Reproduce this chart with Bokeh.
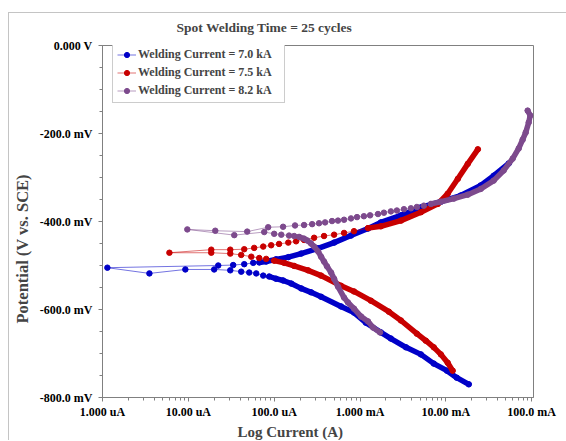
from bokeh.plotting import figure
from bokeh.models import Range1d, FixedTicker, Legend, LegendItem, Title, InlineStyleSheet
from bokeh.embed import file_html
from bokeh.resources import INLINE

# ---------------- data (current in A, potential in mV vs SCE) ----------------
SERIES_LABELS = ["Welding Current = 7.0 kA", "Welding Current = 7.5 kA", "Welding Current = 8.2 kA"]

BLUE_I = [1.85e-2, 1.34e-2, 1.03e-2, 7.24e-3, 5.12e-3, 3.43e-3, 2.29e-3, 1.75e-3, 1.17e-3, 8.51e-4,
          6.01e-4, 3.52e-4, 2.69e-4, 2.06e-4, 1.58e-4, 1.27e-4, 1.05e-4, 8.75e-5, 7.45e-5, 6.18e-5,
          5.12e-5, 4.13e-5, 3.08e-5, 2.00e-5, 9.23e-6, 3.52e-6, 1.14e-6, 2.23e-5, 3.33e-5, 4.48e-5,
          5.70e-5, 6.70e-5, 8.07e-5, 1.05e-4, 1.46e-4, 2.06e-4, 3.25e-4, 4.99e-4, 7.85e-4, 1.24e-3,
          1.75e-3, 3.00e-3, 5.12e-3, 8.75e-3, 1.49e-2, 2.55e-2, 3.61e-2, 5.41e-2]
BLUE_E = [-770, -755, -739, -723, -702, -686, -666, -652, -630, -607,
          -593, -571, -561, -552, -541, -534, -530, -525, -523, -518,
          -516, -514, -511, -509, -509, -518, -505, -500, -499, -497,
          -494, -493, -491, -486, -481, -473, -461, -448, -432, -416,
          -402, -386, -368, -355, -341, -318, -296, -268]

RED_I = [1.20e-2, 1.05e-2, 8.75e-3, 7.24e-3, 5.85e-3, 4.60e-3, 3.00e-3, 2.17e-3, 1.34e-3, 8.51e-4,
         6.01e-4, 3.52e-4, 2.48e-4, 1.71e-4, 1.31e-4, 1.00e-4, 8.07e-5, 6.70e-5, 5.41e-5, 4.13e-5,
         3.08e-5, 1.85e-5, 6.02e-6, 1.85e-5, 3.08e-5, 4.48e-5, 5.85e-5, 7.45e-5, 9.23e-5, 1.14e-4,
         1.46e-4, 1.80e-4, 2.23e-4, 2.92e-4, 3.81e-4, 4.99e-4, 6.52e-4, 8.51e-4, 1.24e-3, 1.75e-3,
         3.00e-3, 5.12e-3, 8.07e-3, 1.05e-2, 1.38e-2, 1.80e-2, 2.36e-2]
RED_E = [-739, -721, -702, -686, -671, -655, -625, -605, -580, -559,
         -546, -523, -511, -501, -494, -489, -485, -483, -480, -476,
         -473, -471, -471, -464, -464, -463, -460, -457, -454, -451,
         -448, -445, -442, -437, -433, -430, -426, -422, -415, -411,
         -398, -379, -360, -337, -303, -269, -236]

PURPLE_I = [1.71e-3, 1.42e-3, 1.24e-3, 1.03e-3, 8.51e-4, 7.24e-4, 6.52e-4, 5.54e-4, 4.99e-4, 4.60e-4,
            4.13e-4, 3.81e-4, 3.52e-4, 3.25e-4, 2.92e-4, 2.69e-4, 2.42e-4, 2.23e-4, 1.95e-4, 1.71e-4,
            1.49e-4, 1.21e-4, 1.00e-4, 7.66e-5, 3.43e-5, 9.73e-6, 2.06e-5, 4.85e-5,
            8.51e-5, 1.27e-4, 1.75e-4, 2.23e-4, 2.77e-4, 3.33e-4, 3.92e-4, 4.72e-4, 5.54e-4, 6.52e-4,
            7.85e-4, 9.23e-4, 1.11e-3, 1.31e-3, 1.62e-3, 1.90e-3, 2.29e-3, 2.69e-3, 3.25e-3, 3.92e-3,
            4.60e-3, 5.54e-3, 6.70e-3, 8.75e-3, 1.24e-2, 1.80e-2, 2.55e-2, 3.61e-2, 4.72e-2, 6.01e-2,
            7.06e-2, 7.85e-2, 8.51e-2, 9.23e-2, 9.62e-2, 8.97e-2]
PURPLE_E = [-652, -641, -627, -616, -598, -584, -573, -548, -530, -516,
            -502, -491, -480, -468, -457, -450, -443, -439, -435, -433,
            -432, -430, -428, -424, -431, -418, -421, -423,
            -413, -412, -409, -408, -406, -404, -402, -399, -398, -396,
            -393, -390, -388, -386, -383, -380, -377, -375, -372, -370,
            -367, -364, -360, -355, -348, -339, -326, -307, -284, -257,
            -234, -214, -198, -175, -159, -148]

X_TICKS = [1e-6, 1e-5, 1e-4, 1e-3, 1e-2, 1e-1]
X_TICK_LABELS = ["1.000 uA", "10.00 uA", "100.0 uA", "1.000 mA", "10.00 mA", "100.0 mA"]
Y_TICKS = [0, -200, -400, -600, -800]
Y_TICK_LABELS = ["0.000 V", "-200.0 mV", "-400.0 mV", "-600.0 mV", "-800.0 mV"]

# ---------------- style ----------------
FONT = "Liberation Serif"
COLORS = ["#0000c8", "#c80000", "#7d4a8d"]
# index ranges where the measured points are so dense that they merge into a band
DENSE = [
    [(0, 18), (31, None)],
    [(0, 16), (38, None)],
    [(0, 19), (50, None)],
]
GRAY = "#808080"

p = figure(frame_width=431, frame_height=352, x_axis_type="log",
           x_range=Range1d(1e-6, 1.05e-1), y_range=Range1d(-800, 0),
           output_backend="svg", toolbar_location=None,
           min_border_left=102, min_border_right=33, min_border_top=45, min_border_bottom=43)
p.background_fill_color = "white"
p.border_fill_color = "white"
p.grid.visible = False
p.outline_line_color = GRAY
p.outline_line_width = 1

# thin light-gray page border (left and top edges of the original figure box)
p.stylesheets.append(InlineStyleSheet(css="""
:host { position: relative; }
:host::after { content: ""; position: absolute; left: 8px; top: 12px; right: 0; bottom: 0;
  border-left: 1px solid #c4c4c4; border-top: 1px solid #c4c4c4; pointer-events: none; z-index: 10; }
"""))

p.title.text = "Spot Welding Time = 25 cycles"
p.title.text_font = FONT
p.title.text_font_size = "13.5px"
p.title.text_font_style = "bold"
p.title.align = "left"
p.title.offset = 74
p.title.standoff = 21

minor_x = [m * 10.0 ** e for e in range(-6, 0) for m in range(2, 10)]
p.xaxis.ticker = FixedTicker(ticks=X_TICKS, minor_ticks=minor_x)
p.xaxis.major_label_overrides = dict(zip(X_TICKS, X_TICK_LABELS))
p.yaxis.ticker = FixedTicker(ticks=Y_TICKS, minor_ticks=list(range(-800, 1, 50)))
p.yaxis.major_label_overrides = dict(zip(Y_TICKS, Y_TICK_LABELS))

for ax in (p.xaxis[0], p.yaxis[0]):
    ax.axis_line_color = GRAY
    ax.major_tick_line_color = GRAY
    ax.minor_tick_line_color = GRAY
    ax.major_tick_in = 0
    ax.major_tick_out = 4
    ax.minor_tick_in = 0
    ax.minor_tick_out = 3
    ax.major_label_text_font = FONT
    ax.major_label_text_font_style = "bold"
    ax.major_label_text_font_size = "12px"
    ax.major_label_text_color = "black"
p.xaxis.major_label_standoff = 3
p.yaxis.major_label_standoff = 6

p.add_layout(Title(text="Potential (V vs. SCE)", align="left", offset=74, standoff=9,
                   text_font=FONT, text_font_size="16.5px", text_font_style="bold"), "left")
p.add_layout(Title(text="Log Current (A)", align="left", offset=135, standoff=0,
                   text_font=FONT, text_font_size="15px", text_font_style="bold"), "below")

items = []
for (xs, ys), color, label, dense in zip(
        [(BLUE_I, BLUE_E), (RED_I, RED_E), (PURPLE_I, PURPLE_E)], COLORS, SERIES_LABELS, DENSE):
    for a, b in dense:
        p.line(xs[a:b], ys[a:b], line_color=color, line_width=5.5,
               line_cap="round", line_join="round")
    ln = p.line(xs, ys, line_color=color, line_width=1, line_alpha=0.55)
    sc = p.scatter(xs, ys, marker="circle", size=5.5, fill_color=color, line_color=color)
    items.append(LegendItem(label=label, renderers=[ln, sc]))

legend = Legend(items=items, location=(10, 294), margin=0, padding=4, spacing=3,
                label_height=13, glyph_height=13, glyph_width=19, label_standoff=2,
                label_width=142,
                label_text_font=FONT, label_text_font_size="12px", label_text_font_style="bold",
                border_line_color="#999999", border_line_width=1.5, background_fill_alpha=1)
p.add_layout(legend)

open("out.html", "w").write(file_html(p, INLINE))
